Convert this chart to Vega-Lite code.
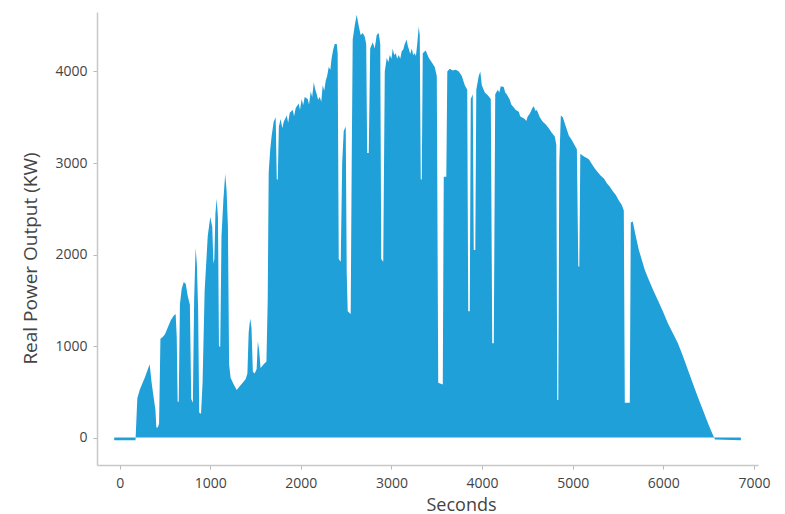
{
  "$schema": "https://vega.github.io/schema/vega-lite/v6.json",
  "autosize": "none",
  "width": 661,
  "height": 453,
  "padding": {"left": 97, "top": 12, "right": 27, "bottom": 49},
  "background": "white",
  "config": {
    "view": {"stroke": null},
    "font": "Open Sans",
    "axis": {
      "grid": false,
      "domainColor": "#c8c8c8",
      "domainWidth": 1.5,
      "tickColor": "#b8b8b8",
      "tickSize": 4,
      "labelFont": "Open Sans",
      "labelFontSize": 14,
      "labelColor": "#444444",
      "titleFont": "Open Sans",
      "titleFontWeight": "normal",
      "titleColor": "#444444"
    }
  },
  "data": {
    "values": [
      {"s": -60, "kw": -30}, {"s": 175, "kw": -30}, {"s": 185, "kw": 200}, {"s": 195, "kw": 430}, {"s": 221, "kw": 520}, {"s": 250, "kw": 590}, {"s": 276, "kw": 650}, {"s": 305, "kw": 730}, {"s": 331, "kw": 800}, {"s": 353, "kw": 600}, {"s": 375, "kw": 440}, {"s": 395, "kw": 300}, {"s": 405, "kw": 110}, {"s": 420, "kw": 110}, {"s": 435, "kw": 150}, {"s": 450, "kw": 1080}, {"s": 475, "kw": 1100}, {"s": 500, "kw": 1130}, {"s": 530, "kw": 1200}, {"s": 563, "kw": 1280}, {"s": 596, "kw": 1330}, {"s": 618, "kw": 1350}, {"s": 630, "kw": 1100}, {"s": 640, "kw": 390}, {"s": 652, "kw": 390}, {"s": 665, "kw": 1450}, {"s": 684, "kw": 1620}, {"s": 707, "kw": 1700}, {"s": 729, "kw": 1680}, {"s": 751, "kw": 1550}, {"s": 775, "kw": 1450}, {"s": 790, "kw": 420}, {"s": 808, "kw": 380}, {"s": 822, "kw": 1500}, {"s": 838, "kw": 2070}, {"s": 852, "kw": 1900}, {"s": 866, "kw": 1400}, {"s": 878, "kw": 270}, {"s": 898, "kw": 260}, {"s": 915, "kw": 600}, {"s": 938, "kw": 1600}, {"s": 972, "kw": 2200}, {"s": 1000, "kw": 2410}, {"s": 1022, "kw": 2300}, {"s": 1035, "kw": 1900}, {"s": 1045, "kw": 1950}, {"s": 1057, "kw": 2450}, {"s": 1071, "kw": 2610}, {"s": 1085, "kw": 2400}, {"s": 1096, "kw": 1000}, {"s": 1110, "kw": 990}, {"s": 1124, "kw": 2200}, {"s": 1145, "kw": 2600}, {"s": 1165, "kw": 2880}, {"s": 1180, "kw": 2700}, {"s": 1195, "kw": 2300}, {"s": 1208, "kw": 800}, {"s": 1225, "kw": 650}, {"s": 1259, "kw": 580}, {"s": 1292, "kw": 520}, {"s": 1325, "kw": 560}, {"s": 1358, "kw": 600}, {"s": 1391, "kw": 640}, {"s": 1410, "kw": 700}, {"s": 1424, "kw": 1150}, {"s": 1441, "kw": 1300}, {"s": 1455, "kw": 1200}, {"s": 1470, "kw": 720}, {"s": 1490, "kw": 700}, {"s": 1512, "kw": 750}, {"s": 1525, "kw": 1050}, {"s": 1540, "kw": 950}, {"s": 1555, "kw": 760}, {"s": 1590, "kw": 800}, {"s": 1620, "kw": 830}, {"s": 1634, "kw": 1500}, {"s": 1645, "kw": 2900}, {"s": 1662, "kw": 3150}, {"s": 1678, "kw": 3300}, {"s": 1700, "kw": 3450}, {"s": 1722, "kw": 3500}, {"s": 1734, "kw": 2820}, {"s": 1745, "kw": 2820}, {"s": 1757, "kw": 3400}, {"s": 1777, "kw": 3480}, {"s": 1795, "kw": 3380}, {"s": 1811, "kw": 3450}, {"s": 1844, "kw": 3520}, {"s": 1860, "kw": 3440}, {"s": 1877, "kw": 3550}, {"s": 1910, "kw": 3580}, {"s": 1925, "kw": 3510}, {"s": 1943, "kw": 3600}, {"s": 1976, "kw": 3650}, {"s": 1990, "kw": 3580}, {"s": 2009, "kw": 3700}, {"s": 2025, "kw": 3630}, {"s": 2042, "kw": 3720}, {"s": 2075, "kw": 3700}, {"s": 2090, "kw": 3640}, {"s": 2109, "kw": 3780}, {"s": 2125, "kw": 3720}, {"s": 2142, "kw": 3880}, {"s": 2160, "kw": 3800}, {"s": 2175, "kw": 3750}, {"s": 2190, "kw": 3690}, {"s": 2208, "kw": 3720}, {"s": 2225, "kw": 3670}, {"s": 2241, "kw": 3850}, {"s": 2258, "kw": 3790}, {"s": 2274, "kw": 3900}, {"s": 2290, "kw": 3950}, {"s": 2307, "kw": 4050}, {"s": 2325, "kw": 4020}, {"s": 2340, "kw": 4150}, {"s": 2357, "kw": 4240}, {"s": 2374, "kw": 4300}, {"s": 2396, "kw": 4300}, {"s": 2406, "kw": 4200}, {"s": 2418, "kw": 1950}, {"s": 2440, "kw": 1920}, {"s": 2456, "kw": 3000}, {"s": 2473, "kw": 3350}, {"s": 2495, "kw": 3400}, {"s": 2506, "kw": 1800}, {"s": 2517, "kw": 1380}, {"s": 2550, "kw": 1350}, {"s": 2561, "kw": 3000}, {"s": 2572, "kw": 4350}, {"s": 2594, "kw": 4500}, {"s": 2616, "kw": 4620}, {"s": 2638, "kw": 4500}, {"s": 2660, "kw": 4400}, {"s": 2683, "kw": 4420}, {"s": 2705, "kw": 4380}, {"s": 2721, "kw": 4300}, {"s": 2732, "kw": 3110}, {"s": 2749, "kw": 3110}, {"s": 2765, "kw": 4250}, {"s": 2793, "kw": 4320}, {"s": 2815, "kw": 4250}, {"s": 2837, "kw": 4400}, {"s": 2859, "kw": 4420}, {"s": 2876, "kw": 4300}, {"s": 2887, "kw": 1950}, {"s": 2909, "kw": 1920}, {"s": 2926, "kw": 4000}, {"s": 2948, "kw": 4150}, {"s": 2965, "kw": 4100}, {"s": 2981, "kw": 4180}, {"s": 3000, "kw": 4140}, {"s": 3014, "kw": 4250}, {"s": 3030, "kw": 4180}, {"s": 3047, "kw": 4200}, {"s": 3063, "kw": 4140}, {"s": 3080, "kw": 4180}, {"s": 3097, "kw": 4140}, {"s": 3113, "kw": 4220}, {"s": 3130, "kw": 4240}, {"s": 3146, "kw": 4300}, {"s": 3168, "kw": 4350}, {"s": 3180, "kw": 4280}, {"s": 3190, "kw": 4250}, {"s": 3207, "kw": 4190}, {"s": 3224, "kw": 4250}, {"s": 3240, "kw": 4180}, {"s": 3257, "kw": 4200}, {"s": 3270, "kw": 4170}, {"s": 3284, "kw": 4300}, {"s": 3301, "kw": 4490}, {"s": 3312, "kw": 4400}, {"s": 3323, "kw": 2820}, {"s": 3334, "kw": 2820}, {"s": 3345, "kw": 4200}, {"s": 3378, "kw": 4230}, {"s": 3411, "kw": 4150}, {"s": 3444, "kw": 4100}, {"s": 3477, "kw": 4050}, {"s": 3500, "kw": 3950}, {"s": 3516, "kw": 600}, {"s": 3566, "kw": 580}, {"s": 3577, "kw": 2850}, {"s": 3605, "kw": 2850}, {"s": 3616, "kw": 4000}, {"s": 3643, "kw": 4030}, {"s": 3676, "kw": 4010}, {"s": 3709, "kw": 4020}, {"s": 3743, "kw": 4000}, {"s": 3776, "kw": 3950}, {"s": 3809, "kw": 3850}, {"s": 3836, "kw": 3800}, {"s": 3847, "kw": 1380}, {"s": 3864, "kw": 1380}, {"s": 3875, "kw": 3700}, {"s": 3897, "kw": 3750}, {"s": 3908, "kw": 2050}, {"s": 3925, "kw": 2050}, {"s": 3936, "kw": 3800}, {"s": 3963, "kw": 3950}, {"s": 3980, "kw": 4000}, {"s": 3997, "kw": 3850}, {"s": 4030, "kw": 3770}, {"s": 4063, "kw": 3740}, {"s": 4096, "kw": 3700}, {"s": 4112, "kw": 1030}, {"s": 4129, "kw": 1030}, {"s": 4145, "kw": 3750}, {"s": 4173, "kw": 3800}, {"s": 4190, "kw": 3770}, {"s": 4206, "kw": 3840}, {"s": 4239, "kw": 3830}, {"s": 4255, "kw": 3770}, {"s": 4272, "kw": 3750}, {"s": 4306, "kw": 3690}, {"s": 4322, "kw": 3640}, {"s": 4339, "kw": 3620}, {"s": 4372, "kw": 3580}, {"s": 4405, "kw": 3560}, {"s": 4420, "kw": 3510}, {"s": 4438, "kw": 3500}, {"s": 4471, "kw": 3480}, {"s": 4488, "kw": 3460}, {"s": 4504, "kw": 3510}, {"s": 4520, "kw": 3530}, {"s": 4537, "kw": 3560}, {"s": 4555, "kw": 3600}, {"s": 4571, "kw": 3620}, {"s": 4588, "kw": 3570}, {"s": 4604, "kw": 3580}, {"s": 4637, "kw": 3500}, {"s": 4670, "kw": 3450}, {"s": 4703, "kw": 3420}, {"s": 4736, "kw": 3380}, {"s": 4769, "kw": 3330}, {"s": 4802, "kw": 3290}, {"s": 4819, "kw": 3200}, {"s": 4830, "kw": 410}, {"s": 4841, "kw": 410}, {"s": 4852, "kw": 3000}, {"s": 4869, "kw": 3520}, {"s": 4891, "kw": 3500}, {"s": 4924, "kw": 3400}, {"s": 4957, "kw": 3300}, {"s": 4990, "kw": 3250}, {"s": 5023, "kw": 3190}, {"s": 5046, "kw": 3150}, {"s": 5062, "kw": 1870}, {"s": 5073, "kw": 1870}, {"s": 5084, "kw": 3100}, {"s": 5112, "kw": 3080}, {"s": 5145, "kw": 3060}, {"s": 5178, "kw": 3040}, {"s": 5211, "kw": 2990}, {"s": 5244, "kw": 2940}, {"s": 5277, "kw": 2900}, {"s": 5310, "kw": 2860}, {"s": 5344, "kw": 2830}, {"s": 5377, "kw": 2780}, {"s": 5410, "kw": 2740}, {"s": 5443, "kw": 2690}, {"s": 5476, "kw": 2650}, {"s": 5509, "kw": 2590}, {"s": 5542, "kw": 2540}, {"s": 5564, "kw": 2480}, {"s": 5575, "kw": 380}, {"s": 5630, "kw": 380}, {"s": 5641, "kw": 2350}, {"s": 5663, "kw": 2360}, {"s": 5696, "kw": 2200}, {"s": 5730, "kw": 2050}, {"s": 5763, "kw": 1940}, {"s": 5796, "kw": 1830}, {"s": 5829, "kw": 1750}, {"s": 5884, "kw": 1620}, {"s": 5940, "kw": 1500}, {"s": 5995, "kw": 1380}, {"s": 6050, "kw": 1250}, {"s": 6106, "kw": 1140}, {"s": 6161, "kw": 1030}, {"s": 6216, "kw": 890}, {"s": 6271, "kw": 740}, {"s": 6326, "kw": 590}, {"s": 6382, "kw": 440}, {"s": 6437, "kw": 300}, {"s": 6492, "kw": 160}, {"s": 6525, "kw": 80}, {"s": 6547, "kw": 30}, {"s": 6570, "kw": -20}, {"s": 6856, "kw": -30}
    ]
  },
  "mark": {"type": "area", "color": "#1fa0d9", "interpolate": "linear"},
  "encoding": {
    "x": {
      "field": "s",
      "type": "quantitative",
      "scale": {"domain": [-250, 7045], "nice": false, "zero": false},
      "axis": {
        "values": [0, 1000, 2000, 3000, 4000, 5000, 6000, 7000],
        "format": "d",
        "labelPadding": 7,
        "title": "Seconds",
        "titleFontSize": 18,
        "titleX": 364,
        "titleY": 40,
        "titleBaseline": "middle",
        "titleAnchor": null
      }
    },
    "y": {
      "field": "kw",
      "type": "quantitative",
      "scale": {"domain": [-300, 4650], "nice": false, "zero": false},
      "axis": {
        "values": [0, 1000, 2000, 3000, 4000],
        "format": "d",
        "labelPadding": 6,
        "title": "Real Power Output (KW)",
        "titleFontSize": 19,
        "titleX": -67,
        "titleY": 246,
        "titleAngle": 270,
        "titleAlign": "center",
        "titleBaseline": "middle"
      }
    }
  }
}
